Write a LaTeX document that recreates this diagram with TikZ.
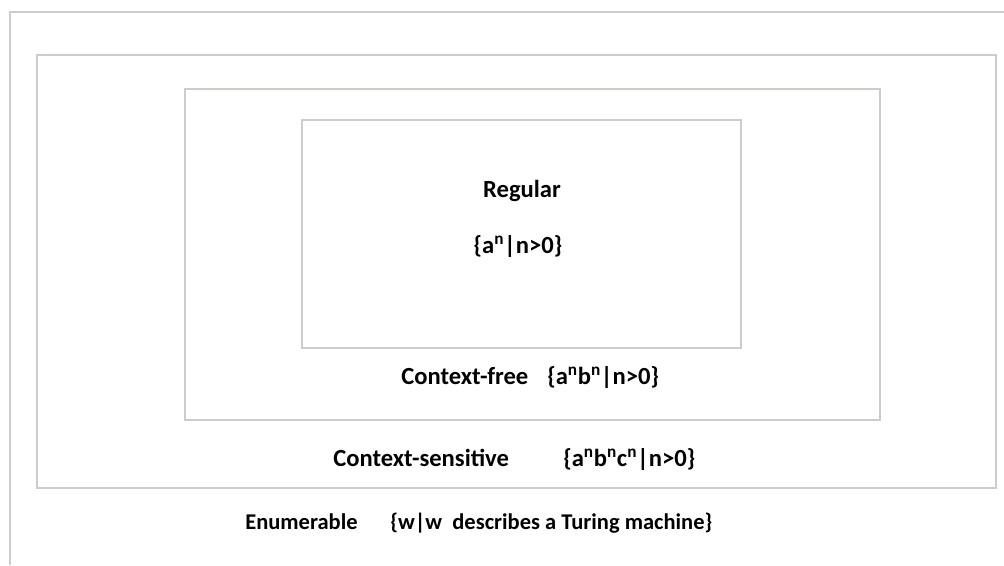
\documentclass[tikz,border=0pt]{standalone}
\usepackage{fontspec}
\setmainfont{Carlito}
\definecolor{framegray}{RGB}{204,204,200}
\begin{document}
\begin{tikzpicture}[x=0.025cm, y=-0.025cm,
  frame/.style={draw=framegray, line width=1.3pt},
  small/.style={font=\fontsize{16}{19}\selectfont\bfseries},
  every node/.style={font=\fontsize{17.5}{21}\selectfont\bfseries, inner sep=0pt, anchor=base west}]
  \useasboundingbox (0,0) rectangle (1004,565);
  \draw[frame] (1004,12) -- (10,12) -- (10,565);
  \draw[frame] (37,55) rectangle (996,488);
  \draw[frame] (185,89) rectangle (880,420);
  \draw[frame] (302,120) rectangle (741,348);
  \node[anchor=base] (reg) at (522,197) {Regular};
  \node[anchor=base] (regset) at (518,253) {\{a\textsuperscript{n}|n>0\}};
  \node (cf) at (401,384) {Context-free};
  \node (cfset) at (547,384) {\{a\textsuperscript{n}b\textsuperscript{n}|n>0\}};
  \node (cs) at (333,466) {Context-sensitive};
  \node (csset) at (563,466) {\{a\textsuperscript{n}b\textsuperscript{n}c\textsuperscript{n}|n>0\}};
  \node[small] (en) at (245,529) {Enumerable};
  \node[small] (enset) at (390,529) {\{w|w\ \ describes a Turing machine\}};
\end{tikzpicture}
\end{document}
